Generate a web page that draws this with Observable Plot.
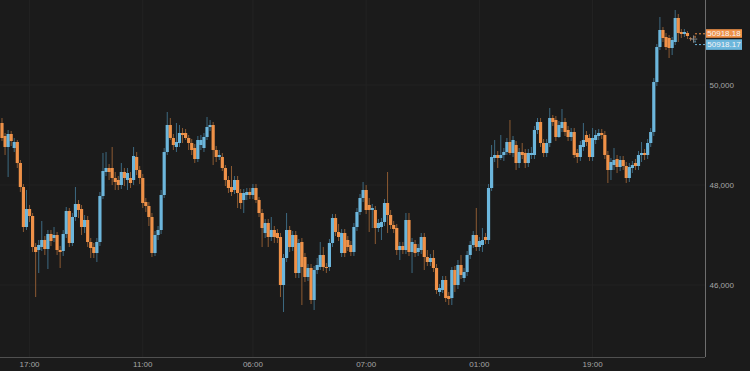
<!DOCTYPE html>
<html><head><meta charset="utf-8">
<script src="https://cdn.jsdelivr.net/npm/d3@7"></script>
<script src="https://cdn.jsdelivr.net/npm/@observablehq/plot@0.6"></script>
<style>
html,body{margin:0;padding:0;background:#1b1b1b;}
#chart svg{display:block;}
</style></head><body><div id="chart"></div>
<script>
const open = [49230,48970,48750,49010,48730,48850,48430,47950,
47150,47510,47370,46750,46690,46750,46890,46710,47010,46930,
46990,46690,46670,47010,47470,46830,47350,47610,47510,
47150,47290,46850,46750,46630,46850,47770,48250,48330,48330,
48130,48090,47990,48250,48090,48130,48090,48550,48290,48130,
47650,47570,47350,46630,46990,47090,47790,48650,
49190,48930,48750,48830,49030,49030,48930,
48830,48730,48510,48790,48730,48950,49150,49190,48690,48550,
48550,48330,48090,47950,47890,48090,47830,47690,47790,47850,47790,
47930,47690,
47430,47030,47230,46950,47090,47030,46950,45990,46530,47090,46750,46990,46230,46850,46550,46150,
46330,45690,46290,46350,46590,46350,46350,46830,47330,47050,46630,47030,46890,46790,46650,
47150,47450,
47730,47890,47590,47490,47490,47130,47150,47250,47630,47390,
47190,
47130,46690,46770,46690,47290,46650,46810,46650,46690,46950,46550,46450,
46530,46330,45850,45890,46090,45770,45730,46290,45990,46390,46130,46250,
46590,46790,
46990,46750,46790,46950,46890,47930,48530,48590,48530,
48590,
48650,48850,48630,48790,48430,48650,48630,48430,48590,48590,49090,49250,48830,48630,48830,49330,
49290,48950,49130,49250,49090,48950,49050,48630,48550,48750,48990,48930,48550,48890,48970,49030,48990,48590,48290,48390,
48510,48350,48490,48370,48130,48330,48430,48370,48590,48630,48590,48830,49050,50050,50750,51090,50950,50930,
50730,
50850,51330,51050,51010,51030,50930,50918.18];
const close = [48930,48750,49010,48870,48850,48430,47950,
47150,47510,47370,46750,46650,46790,46890,46710,47010,46870,
46990,
46690,46650,47010,47470,46830,47350,47610,47490,47150,
47290,46850,46730,46630,46850,47770,48270,48330,48250,48130,
48050,47990,48250,48130,48230,48030,48570,48290,48130,47630,
47570,47350,46630,46990,47090,47790,48650,49190,
48930,48790,48850,49030,48990,48930,48830,
48690,48510,48890,48890,48950,49150,49190,48690,48550,48590,
48330,48090,47930,47850,48090,47830,47630,47830,47850,47790,47930,
47690,47430,
47130,47230,46950,47090,46950,46930,45990,46530,47090,46750,46990,46230,46830,46350,46150,46330,
45690,46290,46390,46590,46350,46330,46830,47330,47050,46950,47030,46630,46750,46650,47150,
47450,47730,
47890,47490,47490,47530,47130,47230,47250,47630,47390,47190,
47110,
46690,46770,46690,47290,46650,46850,46630,46730,46950,46550,46450,46530,
46330,45890,45930,46090,45730,45710,46290,45990,46390,46190,46250,46590,
46790,46990,
46750,46870,46890,46890,47930,48550,48590,48530,48590,
48650,
48850,48630,48890,48430,48650,48590,48430,48630,48630,49090,49250,48830,48630,48830,49330,49250,
48950,49190,49250,49050,48950,49050,48590,48550,48790,48890,48850,48550,48930,48990,49030,48990,48590,48290,48450,48490,
48350,48490,48370,48130,48350,48390,48370,48590,48630,48590,48830,49050,50050,50750,51090,50930,50750,50730,
50890,
51330,51030,51010,51050,50970,50918,50918.17];
const high = [49330,49030,49090,49070,48930,48890,48490,48010,
47890,47590,47430,46830,46890,47270,46970,47090,47090,
47150,
47050,46770,47090,47550,47530,47430,47950,47690,47590,
47390,47370,46930,46830,46930,47850,48630,48650,48410,48750,
48250,48170,48430,48330,48330,48250,48750,48650,48370,48210,
47730,47650,47430,47070,47170,47890,48730,49450,
49330,49010,49230,49190,49130,49110,48990,
48910,48810,48970,48990,49030,49350,49290,49250,48770,48690,
48630,48390,48170,48370,48170,48170,47910,47910,47930,47930,48010,
48010,47750,
47510,47310,47310,47350,47170,47110,47030,46610,47430,47170,47070,47070,46910,46930,46630,46410,
46410,46370,46530,46850,46750,46430,46910,47410,47410,47210,47110,47110,46970,46870,47230,
47530,47810,
48050,47990,47730,47610,47570,47310,47330,47710,48250,47490,
47270,
47210,46850,46850,47430,47430,46930,46890,46810,47030,47030,46690,46610,
46690,46410,46010,46170,46170,45850,46350,46370,46490,46590,46330,46670,
46870,47070,
47530,46950,47130,47030,48010,48790,48890,48670,48990,
48730,
48930,49290,48970,48870,48730,48830,48710,48710,48750,49170,49330,49330,48910,48910,49530,49390,
49370,49270,49510,49330,49170,49130,49130,48710,48870,49230,49070,49010,49130,49090,49110,49110,49070,48670,48530,48730,
48590,48570,48570,48450,48430,48470,48510,48670,48850,48710,48910,49130,50130,50810,51350,51150,51030,50990,
50950,
51490,51410,51110,51110,51070,50950,50950];
const low = [48870,48590,48150,48770,48650,48330,47850,47050,
47090,47250,46650,45750,46230,46670,46590,46310,46770,
46850,
46590,46330,46570,46930,46750,46770,47270,47330,46990,
47030,46750,46530,46530,46450,46770,47710,48170,48090,47990,
47890,47890,47910,47970,47890,47930,47990,48190,48010,47530,
47450,47170,46550,46570,46890,47010,47730,48590,
48890,48690,48650,48750,48830,48890,48690,
48590,48430,48450,48690,48650,48890,49070,48390,48450,48490,
48270,47970,47830,47770,47810,47530,47510,47430,47690,47710,47710,
47630,47350,
46750,46930,46750,46870,46830,46830,45750,45450,46450,46650,46670,46130,46130,45590,46050,46070,
45610,45490,46210,46290,46270,46230,46270,46750,46970,46870,46550,46550,46670,46570,46570,
47070,47390,
47650,47410,47050,47130,46810,47050,46890,47170,47030,47110,
47030,
46590,46490,46610,46610,46570,46230,46550,46570,46610,46290,46370,46370,
46250,45810,45770,45830,45650,45590,45590,45850,45910,46110,46050,46170,
46510,46730,
46670,46670,46650,46810,46810,47870,48450,48330,48490,
48470,
48590,48590,48550,48290,48330,48510,48330,48350,48510,48510,49010,48750,48550,48550,48750,49170,
48870,48930,49050,48970,48870,48870,48530,48430,48470,48670,48770,48470,48470,48810,48890,48910,48510,48030,48090,48290,
48230,48270,48290,48030,48050,48230,48290,48290,48450,48490,48510,48750,48970,49970,50690,50850,50690,50530,
50590,
50790,50850,50930,50950,50910,50870,50880];

const tickCandles = [9, 46, 82, 119, 156, 193];
const tickLabels = ["17:00", "11:00", "06:00", "07:00", "01:00", "19:00"];
const yTicks = [46000, 48000, 50000];
const lastLabels = ["50918.18", "50918.17"];

const UP = "#6cb6dc", DOWN = "#ef9148", UPW = "#3d6a82", DOWNW = "#8c5a32", FLAT = "#8c8c8c";
const candles = open.map((o, i) => ({i, open: o, high: high[i], low: low[i], close: close[i]}));
const isFlat = d => Math.abs(d.close - d.open) < 1;
const bodyCol = d => d.close > d.open ? UP : DOWN;
const wickCol = d => d.close > d.open ? UPW : DOWNW;
const moving = candles.filter(d => !isFlat(d));
const flat = candles.filter(isFlat);
const labelOf = new Map(tickCandles.map((t, k) => [t, tickLabels[k]]));
const xDomain = [-0.49, 229.9];
const yDomain = [44550, 51690];

const plot = Plot.plot({
  width: 750, height: 371,
  marginLeft: 0, marginRight: 45, marginTop: 0, marginBottom: 14,
  style: {background: "#1b1b1b", color: "#a6a6a6", fontFamily: "'Liberation Sans', Arial, sans-serif", fontSize: "8px"},
  x: {domain: xDomain},
  y: {domain: yDomain},
  color: {type: "identity"},
  marks: [
    Plot.gridX(tickCandles, {stroke: "#232323", strokeOpacity: 1}),
    Plot.gridY(yTicks, {stroke: "#232323", strokeOpacity: 1}),
    Plot.ruleX(moving, {x: "i", y1: "low", y2: "high", stroke: wickCol, strokeWidth: 1}),
    Plot.ruleX(moving, {x: "i", y1: "open", y2: "close", stroke: bodyCol, strokeWidth: 3.2}),
    Plot.dot(flat, {x: "i", y: "close", symbol: "plus", r: 2.5, stroke: FLAT, strokeWidth: 1}),
    Plot.ruleX([xDomain[1]], {stroke: "#6e6e6e", strokeWidth: 1}),
    Plot.ruleY([yDomain[0]], {stroke: "#505050", strokeWidth: 1}),
    Plot.axisX(tickCandles, {tickSize: 0, tickPadding: 4, tickFormat: d => labelOf.get(d), label: null}),
    Plot.axisY(yTicks, {anchor: "right", tickSize: 0, tickPadding: 4, tickFormat: d3.format(","), label: null})
  ]
});

document.getElementById("chart").appendChild(plot);

// last-price annotations placed through Plot's own scales
const sy = plot.scale("y"), sx = plot.scale("x");
const fy = sy.apply ? v => sy.apply(v) : d3.scaleLinear(sy.domain, sy.range);
const fx = sx.apply ? v => sx.apply(v) : d3.scaleLinear(sx.domain, sx.range);
const last = candles[candles.length - 1];
const y0 = fy(last.close);
const xr = fx(xDomain[1]);
const xl = fx(last.i);
const svg = d3.select(plot);
const g = svg.append("g").attr("font-family", "'Liberation Sans', Arial, sans-serif").attr("font-size", 8);
g.append("path").attr("d", `M${xr},${y0 - 4.8}H${xl + 2}V${y0}`).attr("fill", "none")
  .attr("stroke", DOWN).attr("stroke-dasharray", "2,2");
g.append("path").attr("d", `M${xr},${y0 + 6}H${xl + 2}V${y0}`).attr("fill", "none")
  .attr("stroke", UP).attr("stroke-dasharray", "2,2");
const boxes = [
  {t: lastLabels[0], c: DOWN, y: y0 - 9.4, h: 8.6},
  {t: lastLabels[1], c: UP, y: y0 + 0.7, h: 10.6}
];
for (const b of boxes) {
  g.append("rect").attr("x", xr + 1).attr("y", b.y).attr("width", 36).attr("height", b.h).attr("fill", b.c);
  g.append("text").attr("x", xr + 19).attr("y", b.y + b.h / 2).attr("text-anchor", "middle")
    .attr("dominant-baseline", "central").attr("fill", "#f4f4f4").text(b.t);
}
</script></body></html>
